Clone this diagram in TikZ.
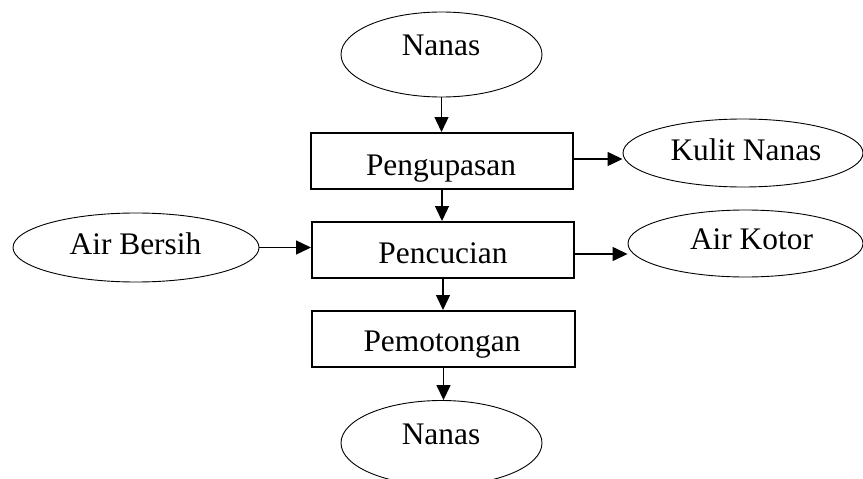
\documentclass[tikz,border=0pt]{standalone}
\usepackage{fontspec}
\setmainfont{Liberation Serif}
\usetikzlibrary{shapes.geometric,arrows.meta}
\tikzset{
  oval/.style={draw,ellipse,line width=0.9pt,inner sep=0pt},
  procbox/.style={draw,rectangle,line width=2pt,inner sep=0pt},
  lbl/.style={anchor=base,inner sep=0pt,font=\fontsize{31.4}{36}\selectfont},
  flow/.style={line width=1.4pt,-{Triangle[length=15pt,width=14pt]}}
}
\begin{document}
\begin{tikzpicture}[x=1pt,y=-1pt]
\useasboundingbox (0,0) rectangle (863,479);
\clip (0,0) rectangle (863,479);
% shapes
\node[oval,minimum width=201pt,minimum height=85pt] (nanas1) at (441.5,54.5) {};
\node[procbox,minimum width=262pt,minimum height=56pt] (peng) at (442,161) {};
\node[oval,minimum width=240pt,minimum height=68pt] (kulit) at (743,153) {};
\node[procbox,minimum width=262pt,minimum height=56pt] (cuci) at (443,250) {};
\node[oval,minimum width=246pt,minimum height=69pt] (bersih) at (136,247.5) {};
\node[oval,minimum width=235pt,minimum height=67pt] (kotor) at (745.5,243.5) {};
\node[procbox,minimum width=263pt,minimum height=56pt] (potong) at (443.5,339) {};
\node[oval,minimum width=201pt,minimum height=85pt] (nanas2) at (441.5,443) {};
% texts
\node[lbl] (t1) at (441,55) {Nanas};
\node[lbl] (t2) at (441,175) {Pengupasan};
\node[lbl] (t3) at (746,160) {Kulit Nanas};
\node[lbl] (t4) at (751.5,249) {Air Kotor};
\node[lbl] (t5) at (135.5,254) {Air Bersih};
\node[lbl] (t6) at (443,263) {Pencucian};
\node[lbl] (t7) at (442,351.7) {Pemotongan};
\node[lbl] (t8) at (441,444) {Nanas};
% connectors
\draw[flow] (nanas1.south) -- (nanas1.south |- peng.north);
\draw[flow] (peng.south) -- (peng.south |- cuci.north);
\draw[flow] (cuci.south) -- (cuci.south |- potong.north);
\draw[flow] (potong.south) -- (potong.south |- nanas2.north);
\draw[flow] ([yshift=2pt]peng.east) -- ([yshift=2pt]peng.east -| kulit.west);
\draw[flow] ([yshift=-4pt]cuci.east) -- ([yshift=-4pt]cuci.east -| kotor.west);
\draw[flow] (bersih.east) -- (bersih.east -| cuci.west);
\end{tikzpicture}
\end{document}
